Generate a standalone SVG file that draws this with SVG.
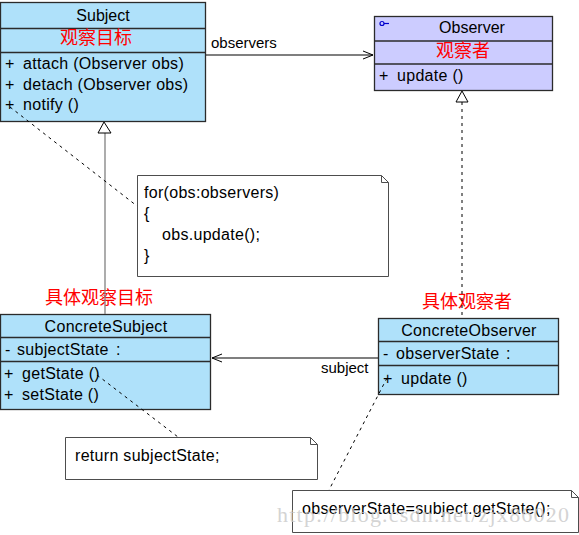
<svg xmlns="http://www.w3.org/2000/svg" width="579" height="535" viewBox="0 0 579 535">
<style>
text{font-family:"Liberation Sans",Arial,sans-serif;font-size:16px;fill:#000}
.m{letter-spacing:0.3px}
.cn{font-family:"Noto Sans CJK SC","Liberation Sans",sans-serif;font-size:18px;fill:#ff0000}
.c{text-anchor:middle}
.box{fill:#afe1fa;stroke:#2b2b2b;stroke-width:1.3}
.ibox{fill:#ccccff;stroke:#2b2b2b;stroke-width:1.3}
.sep{stroke:#2b2b2b;stroke-width:1.3}
.note{fill:#fff;stroke:#4d4d4d;stroke-width:1}
.lbl{font-size:15px}
.dash{fill:none;stroke:#000;stroke-width:1;stroke-dasharray:3,4}
.wm{font-family:"Liberation Serif",serif;font-size:22px;fill:#c8c8c8;fill-opacity:0.8}
</style>
<defs>
<marker id="open" markerWidth="12" markerHeight="10" refX="11" refY="5" orient="auto" markerUnits="userSpaceOnUse">
<path d="M1,1 L11,5 L1,9" fill="none" stroke="#000" stroke-width="1"/>
</marker>
</defs>
<rect width="579" height="535" fill="#fff"/>

<g id="Subject">
<rect class="box" x="0.5" y="2.5" width="205" height="119"/>
<line class="sep" x1="0" y1="28.5" x2="205" y2="28.5"/>
<line class="sep" x1="0" y1="52.5" x2="205" y2="52.5"/>
<text class="c" x="103" y="21">Subject</text>
<text class="cn c" x="96" y="44">观察目标</text>
<text x="5" y="69">+</text><text class="m" x="23" y="69">attach (Observer obs)</text>
<text x="5" y="90">+</text><text class="m" x="23" y="90">detach (Observer obs)</text>
<text x="5" y="110">+</text><text class="m" x="23" y="110">notify ()</text>
</g>

<g id="Observer">
<rect class="ibox" x="374.5" y="16.5" width="178" height="74"/>
<line class="sep" x1="374" y1="41" x2="553" y2="41"/>
<line class="sep" x1="374" y1="64" x2="553" y2="64"/>
<circle cx="382" cy="23.5" r="2" fill="none" stroke="#0000cc" stroke-width="1.2"/>
<line x1="384" y1="23.5" x2="389" y2="23.5" stroke="#0000cc" stroke-width="1.2"/>
<text class="c" x="472" y="33">Observer</text>
<text class="cn c" x="463" y="57">观察者</text>
<text x="379" y="81">+</text><text class="m" x="397" y="81">update ()</text>
</g>

<g id="ConcreteSubject">
<text class="cn" x="45" y="304">具体观察目标</text>
<rect class="box" x="0.5" y="314.5" width="210" height="95"/>
<line class="sep" x1="0" y1="337.5" x2="210" y2="337.5"/>
<line class="sep" x1="0" y1="361.5" x2="210" y2="361.5"/>
<text class="c m" x="106" y="332">ConcreteSubject</text>
<text x="5" y="355">-</text><text class="m" x="17" y="355">subjectState</text><text x="116" y="355">:</text>
<text x="4" y="379">+</text><text class="m" x="22" y="379">getState ()</text>
<text x="4" y="400">+</text><text class="m" x="22" y="400">setState ()</text>
</g>

<g id="ConcreteObserver">
<text class="cn" x="422" y="308">具体观察者</text>
<rect class="box" x="378.5" y="318.5" width="180" height="76"/>
<line class="sep" x1="378" y1="341.5" x2="559" y2="341.5"/>
<line class="sep" x1="378" y1="365.5" x2="559" y2="365.5"/>
<text class="c m" x="469" y="336">ConcreteObserver</text>
<text x="383" y="359">-</text><text class="m" x="396" y="359">observerState</text><text x="506" y="359">:</text>
<text x="383" y="384">+</text><text class="m" x="401" y="384">update ()</text>
</g>

<g id="note1">
<path class="note" d="M137.5,175.5 H381.5 L388.5,182.5 V276.5 H137.5 Z"/>
<path d="M381.5,175.5 V182.5 H388.5" fill="none" stroke="#4d4d4d"/>
<text class="m" x="144" y="198">for(obs:observers)</text>
<text x="144" y="219">{</text>
<text class="m" x="162" y="240">obs.update();</text>
<text x="144" y="261">}</text>
</g>

<g id="note2">
<path class="note" d="M65.5,437.5 H310.5 L317.5,444.5 V479.5 H65.5 Z"/>
<path d="M310.5,437.5 V444.5 H317.5" fill="none" stroke="#4d4d4d"/>
<text class="m" x="75" y="461">return subjectState;</text>
</g>

<g id="note3">
<path class="note" d="M292.5,490.5 H571.5 L578.5,497.5 V532.5 H292.5 Z"/>
<path d="M571.5,490.5 V497.5 H578.5" fill="none" stroke="#4d4d4d"/>
<text class="m" x="302" y="514">observerState=subject.getState();</text>
</g>

<g id="connectors">
<line x1="206" y1="55" x2="373" y2="55" stroke="#000" stroke-width="1.2" marker-end="url(#open)"/>
<text class="lbl" x="211" y="48">observers</text>
<line x1="378" y1="358" x2="212" y2="358" stroke="#000" stroke-width="1.2" marker-end="url(#open)"/>
<text class="lbl" x="321" y="373">subject</text>
<line x1="105" y1="133" x2="105" y2="314" stroke="#808080" stroke-width="1.3"/>
<polygon points="104,122 98,133 111,133" fill="#fff" stroke="#000" stroke-width="1"/>
<line x1="462" y1="102" x2="462" y2="318" class="dash"/>
<polygon points="462,91 456,102 468,102" fill="#fff" stroke="#000" stroke-width="1"/>
<line x1="10" y1="107" x2="137" y2="206" class="dash"/>
<line x1="97" y1="375" x2="178" y2="437" class="dash"/>
<line x1="387" y1="378" x2="329" y2="490" class="dash"/>
</g>

<text class="wm" x="277" y="522" textLength="292">http://blog.csdn.net/zjx86020</text>
</svg>
